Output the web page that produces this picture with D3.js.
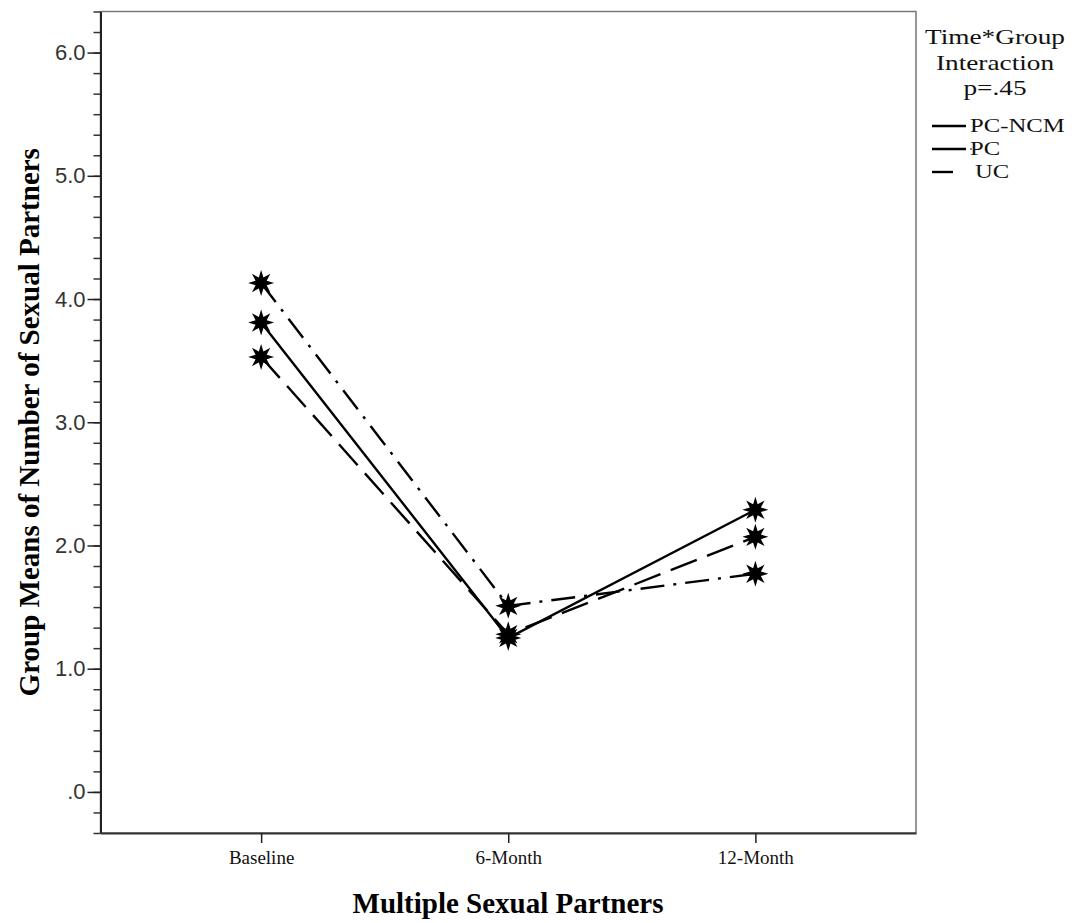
<!DOCTYPE html>
<html>
<head>
<meta charset="utf-8">
<script src="https://cdn.jsdelivr.net/npm/d3@7"></script>
<style>
  body { margin: 0; background: #fff; }
  svg { display: block; }
</style>
</head>
<body>
<div id="container"></div>
<script>
// data
const timePoints = ["Baseline", "6-Month", "12-Month"];
const groups = ["PC-NCM", "PC", "UC"];
const pcNcmMeans = [3.81, 1.25, 2.29];
const pcMeans = [4.13, 1.51, 1.77];
const ucMeans = [3.53, 1.28, 2.07];
const yTickValues = [0, 1, 2, 3, 4, 5, 6];
const legendTitle = ["Time*Group", "Interaction", "p=.45"];

// layout
const svgWidth = 1072;
const svgHeight = 923;
const plot = { left: 100.5, right: 916, top: 11.5, bottom: 833 };
const serif = "'Liberation Serif', 'Times New Roman', serif";

const dashes = { "PC-NCM": null, "PC": "24,9,3,9", "UC": "28,11" };

let svg = d3.select("#container")
  .append("svg")
  .attr("width", svgWidth)
  .attr("height", svgHeight);

let x = d3.scalePoint()
  .domain(timePoints)
  .range([plot.left, plot.right])
  .padding(0.65);

let y = d3.scaleLinear()
  .domain([-1 / 3, 19 / 3])
  .range([plot.bottom, plot.top]);

// frame
svg.append("rect")
  .attr("x", plot.left)
  .attr("y", plot.top)
  .attr("width", plot.right - plot.left)
  .attr("height", plot.bottom - plot.top)
  .attr("fill", "none")
  .attr("stroke", "#777")
  .attr("stroke-width", 1.5);

// y axis: major ticks and minor every 1/6
let minorTicks = d3.range(-2, 39).map(i => i / 6);
svg.append("g")
  .attr("transform", `translate(${plot.left},0)`)
  .call(d3.axisLeft(y).tickValues(minorTicks).tickSize(7).tickFormat(""))
  .call(g => g.select(".domain").remove())
  .selectAll("line").attr("stroke", "#333").attr("stroke-width", 1.5);

let yAxis = svg.append("g")
  .attr("transform", `translate(${plot.left},0)`)
  .call(d3.axisLeft(y).tickValues(yTickValues).tickSize(13).tickSizeOuter(0).tickPadding(2)
    .tickFormat(d => d === 0 ? ".0" : d3.format(".1f")(d)));
yAxis.select(".domain").attr("stroke", "#222").attr("stroke-width", 2);
yAxis.selectAll("line").attr("stroke", "#222").attr("stroke-width", 1.5);
yAxis.selectAll("text")
  .attr("font-family", "'Liberation Sans', Arial, sans-serif")
  .attr("font-size", 22)
  .attr("fill", "#333");

// x axis
let xAxis = svg.append("g")
  .attr("transform", `translate(0,${plot.bottom})`)
  .call(d3.axisBottom(x).tickSize(10).tickSizeOuter(0).tickPadding(8));
xAxis.select(".domain").attr("stroke", "#333").attr("stroke-width", 2);
xAxis.selectAll("line").attr("stroke", "#222").attr("stroke-width", 1.5);
xAxis.selectAll("text")
  .attr("font-family", serif)
  .attr("font-size", 19)
  .attr("fill", "#111");

// axis titles
svg.append("text")
  .attr("x", 508)
  .attr("y", 913)
  .attr("text-anchor", "middle")
  .attr("font-family", serif)
  .attr("font-weight", "bold")
  .attr("font-size", 29)
  .text("Multiple Sexual Partners");

svg.append("text")
  .attr("transform", `translate(39,${(plot.top + plot.bottom) / 2}) rotate(-90)`)
  .attr("text-anchor", "middle")
  .attr("font-family", serif)
  .attr("font-weight", "bold")
  .attr("font-size", 29)
  .text("Group Means of Number of Sexual Partners");

// lines
const seriesValues = { "PC-NCM": pcNcmMeans, "PC": pcMeans, "UC": ucMeans };
let line = d3.line()
  .x((d, i) => x(timePoints[i]))
  .y(d => y(d));

groups.forEach(g => {
  svg.append("path")
    .datum(seriesValues[g])
    .attr("d", line)
    .attr("fill", "none")
    .attr("stroke", "#000")
    .attr("stroke-width", 2.4)
    .attr("stroke-dasharray", dashes[g]);
});

// star markers
function starPath(rOuter, rInner, n) {
  let pts = [];
  for (let i = 0; i < 2 * n; i++) {
    let a = Math.PI * i / n - Math.PI / 2;
    let r = i % 2 === 0 ? rOuter : rInner;
    pts.push([r * Math.cos(a), r * Math.sin(a)]);
  }
  return "M" + pts.join("L") + "Z";
}
const marker = starPath(13, 6, 8);

groups.forEach(g => {
  svg.append("g")
    .selectAll("path")
    .data(seriesValues[g])
    .enter()
    .append("path")
    .attr("transform", (d, i) => `translate(${x(timePoints[i])},${y(d)})`)
    .attr("d", marker)
    .attr("fill", "#000");
});

// legend (text in the reference is horizontally stretched)
let legend = svg.append("g")
  .attr("font-family", serif)
  .attr("fill", "#111");

legend.selectAll("text.title")
  .data(legendTitle)
  .enter()
  .append("text")
  .attr("class", "title")
  .attr("transform", (d, i) => `translate(995,${44 + i * 25.5}) scale(1.3,1)`)
  .attr("text-anchor", "middle")
  .attr("font-size", 21)
  .text(d => d);

let legendItems = legend.selectAll("g.item")
  .data(groups)
  .enter()
  .append("g")
  .attr("class", "item")
  .attr("transform", (d, i) => `translate(932,${126 + i * 23})`);

legendItems.append("line")
  .attr("x1", 0)
  .attr("x2", d => d === "UC" ? 21 : 34)
  .attr("stroke", "#000")
  .attr("stroke-width", 2.4);

legendItems.filter(d => d === "PC").append("circle")
  .attr("cx", 39)
  .attr("r", 1)
  .attr("fill", "#666");

legendItems.append("text")
  .attr("transform", d => `translate(${d === "UC" ? 43 : 38},6) scale(1.3,1)`)
  .attr("font-size", 19)
  .text(d => d);
</script>
</body>
</html>
